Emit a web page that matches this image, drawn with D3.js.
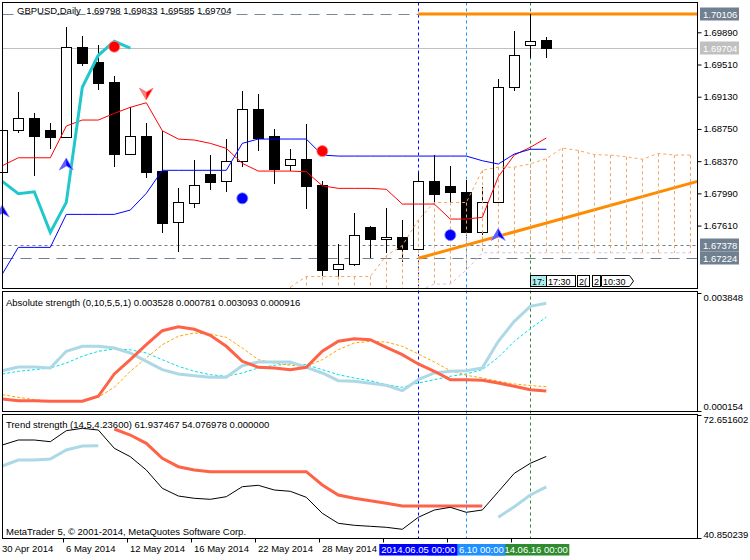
<!DOCTYPE html>
<html><head><meta charset="utf-8">
<script src="https://cdn.jsdelivr.net/npm/d3@7/dist/d3.min.js"></script>
<style>
html,body{margin:0;padding:0;background:#fff;}
svg{display:block;}
text{font-family:"Liberation Sans",Arial,sans-serif;font-size:9.5px;fill:#000;}
</style></head><body>
<svg id="chart" width="750" height="560"></svg>
<script>
// ---------------- DATA ----------------
const dates = ["2014-04-30","2014-05-01","2014-05-02","2014-05-05","2014-05-06","2014-05-07","2014-05-08","2014-05-09",
"2014-05-12","2014-05-13","2014-05-14","2014-05-15","2014-05-16","2014-05-19","2014-05-20","2014-05-21","2014-05-22",
"2014-05-23","2014-05-26","2014-05-27","2014-05-28","2014-05-29","2014-05-30","2014-06-02","2014-06-03","2014-06-04",
"2014-06-05","2014-06-06","2014-06-09","2014-06-10","2014-06-11","2014-06-12","2014-06-13","2014-06-16","2014-06-17"];
const futureDates = ["2014-06-18","2014-06-19","2014-06-20","2014-06-23","2014-06-24","2014-06-25","2014-06-26","2014-06-27","2014-06-30"];

const open  = [1.68242,1.68734,1.68875,1.68734,1.68651,1.69713,1.69536,1.69304,1.68458,1.68663,1.68253,1.67648,1.67872,1.68218,1.68132,1.68368,1.68981,1.68663,1.68321,1.68392,1.68088,1.67093,1.67152,1.67589,1.67448,1.67475,1.67339,1.68132,1.68080,1.68002,1.67530,1.67884,1.69241,1.69737,1.69798];
const high  = [1.68796,1.69189,1.68938,1.68820,1.69956,1.69850,1.69740,1.69374,1.69012,1.68816,1.68729,1.68049,1.68383,1.68442,1.68631,1.69197,1.69162,1.68749,1.68510,1.68808,1.68139,1.67392,1.67754,1.67600,1.67813,1.67675,1.68226,1.68442,1.68316,1.68147,1.68068,1.69335,1.69905,1.70106,1.69833];
const low   = [1.68206,1.68698,1.68198,1.68513,1.68639,1.69496,1.69209,1.68304,1.68446,1.68174,1.67525,1.67301,1.67820,1.68029,1.68009,1.68304,1.68493,1.68100,1.68253,1.67809,1.67014,1.66991,1.67132,1.67227,1.67289,1.67180,1.67298,1.67879,1.67852,1.67486,1.67498,1.67876,1.69201,1.69583,1.69585];
const close = [1.68737,1.68875,1.68670,1.68658,1.69713,1.69531,1.69295,1.68458,1.68663,1.68245,1.67643,1.67884,1.68088,1.68127,1.68368,1.68981,1.68646,1.68281,1.68392,1.68080,1.67091,1.67152,1.67495,1.67455,1.67471,1.67339,1.68132,1.67986,1.68009,1.67530,1.67884,1.69241,1.69619,1.69784,1.69704];

const tenkan = [1.68316,1.68410,1.68410,1.68410,1.68784,1.68855,1.68855,1.68934,1.69005,1.69059,1.68729,1.68631,1.68619,1.68580,1.68521,1.68344,1.68253,1.68253,1.68253,1.68245,1.68080,1.68049,1.68049,1.68049,1.68038,1.67864,1.67864,1.67864,1.67687,1.67687,1.67707,1.68186,1.68442,1.68533,1.68643];
const kijun  = [1.67038,1.67353,1.67353,1.67353,1.67742,1.67742,1.67742,1.67742,1.67793,1.67990,1.68262,1.68262,1.68262,1.68262,1.68262,1.68580,1.68631,1.68631,1.68631,1.68631,1.68442,1.68430,1.68430,1.68430,1.68430,1.68430,1.68430,1.68430,1.68430,1.68430,1.68375,1.68336,1.68454,1.68510,1.68510];
const chikou = [1.68132,1.67986,1.68009,1.67530,1.67884,1.69241,1.69619,1.69784,1.69704];
const cloudStart = 17;
const senkouA = [1.66790,1.66885,1.67009,1.67009,1.67009,1.67009,1.67009,1.67256,1.67374,1.67677,1.67882,1.67882,1.67882,1.68263,1.68299,1.68299,1.68338,1.68399,1.68525,1.68496,1.68447,1.68441,1.68421,1.68392,1.68462,1.68442,1.68442];
const senkouB = [1.66600,1.66600,1.66600,1.66600,1.66600,1.66600,1.66600,1.66600,1.66600,1.66837,1.66920,1.66920,1.67085,1.67289,1.67289,1.67289,1.67289,1.67289,1.67289,1.67289,1.67289,1.67289,1.67289,1.67289,1.67289,1.67289,1.67289];

const redDotIdx = [7,20],  redDotPrice = [1.69720,1.68489];
const blueDotIdx = [15,28], blueDotPrice = [1.67931,1.67498];
const upArrowIdx = [0,4,31], upArrowPrice = [1.67852,1.68407,1.67577];
const downArrowIdx = [9], downArrowPrice = [1.69091];
const trendIdx = [26,32], trendPrice = [1.67224,1.67536];

const vlineDates  = ["2014-06-16","2014-06-10","2014-06-05"];
const vlineLabels = ["14.06.16 00:00","6.10 00:00","2014.06.05 00:00"];  // visible parts of the stacked labels
const vlineColors = ["#2E8B2E","#1E90FF","#0000FF"];

const priceTicks = [1.69890,1.69510,1.69130,1.68750,1.68370,1.67990,1.67610];
const hiLevel = 1.70106, bidLevel = 1.69704, dotLevel = 1.67378, dashLevel = 1.67224;

const absBulls    = [0.001416,0.001532,0.001532,0.001500,0.002023,0.002180,0.002180,0.002126,0.001970,0.001710,0.001447,0.001313,0.001259,0.001209,0.001209,0.001572,0.001688,0.001688,0.001688,0.001522,0.001344,0.001103,0.001084,0.001022,0.000959,0.000790,0.001134,0.001344,0.001397,0.001416,0.001500,0.002336,0.002962,0.003432,0.003528];
const absBears    = [0.000530,0.000477,0.000477,0.000458,0.000458,0.000458,0.000615,0.001313,0.001760,0.002230,0.002668,0.002793,0.002712,0.002524,0.002180,0.001710,0.001522,0.001500,0.001447,0.001522,0.002023,0.002336,0.002418,0.002386,0.002148,0.001917,0.001626,0.001397,0.001134,0.001134,0.001116,0.001031,0.000928,0.000821,0.000781];
const absBullsSig = [0.001313,0.001397,0.001447,0.001500,0.001657,0.001867,0.002023,0.002095,0.002073,0.001970,0.001760,0.001554,0.001397,0.001291,0.001241,0.001344,0.001500,0.001585,0.001626,0.001604,0.001447,0.001291,0.001187,0.001103,0.000978,0.000896,0.001031,0.001134,0.001241,0.001313,0.001447,0.001835,0.002336,0.002731,0.003093];
const absBearsSig = [0.000665,0.000583,0.000508,0.000458,0.000458,0.000477,0.000583,0.000896,0.001397,0.001813,0.002230,0.002493,0.002596,0.002565,0.002461,0.002126,0.001760,0.001657,0.001585,0.001554,0.001760,0.002073,0.002283,0.002336,0.002314,0.002180,0.001939,0.001688,0.001416,0.001272,0.001187,0.001084,0.001000,0.000950,0.000916];
const absRange = [0.003848,0.000154];

const trendMain = [64.895,66.188,66.188,65.749,68.592,69.213,68.773,64.042,61.870,58.431,53.700,51.709,51.114,50.856,51.528,54.114,54.476,53.260,52.924,51.373,47.236,44.651,44.134,43.875,43.616,43.099,46.202,48.089,48.787,47.495,48.089,52.821,57.578,60.164,61.937];
const trendUp = [59.466,61.017,61.017,61.275,63.602,64.637,64.714,null,null,null,null,null,null,null,null,null,null,null,null,null,null,null,null,null,null,null,null,null,null,null,null,46.202,48.943,51.968,54.077];
const trendDn = [null,null,null,null,null,null,null,69.032,67.481,65.335,61.457,59.285,58.431,57.992,57.992,57.992,57.992,57.992,57.992,57.992,54.553,51.968,51.114,50.494,49.822,49.124,49.124,49.124,49.124,49.124,49.124,null,null,null,null];
const trendRange = [72.651602,40.850239];

const xTickIdx = [0,4,8,12,16,20,24,28,32];
const xTickLabels = ["30 Apr 2014","6 May 2014","12 May 2014","16 May 2014","22 May 2014","28 May 2014","","",""];

const tagTexts = ["17:","17:30","2(","2","10:30"];

const titleMain = "GBPUSD,Daily  1.69798 1.69833 1.69585 1.69704";
const titleAbs = "Absolute strength (0,10,5,5,1) 0.003528 0.000781 0.003093 0.000916";
const titleTrend = "Trend strength (14,5,4.23600) 61.937467 54.076978 0.000000";
const copyright = "MetaTrader 5, \u00A9 2001-2014, MetaQuotes Software Corp.";

// ---------------- SCALES ----------------
const svg = d3.select("#chart");
const allDates = dates.concat(futureDates);
const x = d3.scalePoint().domain(allDates).range([2.3, 2.3 + 16*(allDates.length-1)]);
const y  = d3.scaleLinear().domain([hiLevel, dashLevel]).range([14, 258.3]);
const y2 = d3.scaleLinear().domain(absRange).range([293, 411]);
const y3 = d3.scaleLinear().domain(trendRange).range([415, 538]);
const XL = 2.5, XR = 697.5;
const panels = [{t:2.5,b:288.5},{t:291.5,b:411.5},{t:414.5,b:538.5}];

const defs = svg.append("defs");
panels.forEach((p,k)=>{
  defs.append("clipPath").attr("id","clip"+k).append("rect")
    .attr("x",0).attr("y",p.t).attr("width",XR).attr("height",p.b-p.t);
});

// ---------------- VERTICAL LINES ----------------
const vg = svg.append("g");
vlineDates.forEach((d,k)=>{
  vg.append("line").attr("x1",Math.round(x(d))+0.5).attr("x2",Math.round(x(d))+0.5)
    .attr("y1",panels[0].t).attr("y2",panels[2].b)
    .attr("stroke",vlineColors[k]).attr("stroke-width",1).attr("stroke-dasharray","3,3");
});

// ---------------- MAIN PANEL ----------------
const g1 = svg.append("g").attr("clip-path","url(#clip0)");
function hline(p, color, dash, w){
  g1.append("line").attr("x1",XL).attr("x2",XR)
    .attr("y1",Math.round(y(p))+0.5).attr("y2",Math.round(y(p))+0.5)
    .attr("stroke",color).attr("stroke-width",w).attr("stroke-dasharray",dash);
}
hline(hiLevel,"#778899","11,7",1);
hline(bidLevel,"#C0C0C0",null,1);
hline(dotLevel,"#708090","3,3",1);
hline(dashLevel,"#708090","11,7",1);
g1.append("line").attr("x1",x(dates[26])).attr("x2",XR)
  .attr("y1",y(hiLevel)).attr("y2",y(hiLevel)).attr("stroke","#FF8C00").attr("stroke-width",3);

// trend line (ray)
{
  const x0 = x(dates[trendIdx[0]]), y0 = y(trendPrice[0]);
  const x1 = x(dates[trendIdx[1]]), y1 = y(trendPrice[1]);
  const s = (y1-y0)/(x1-x0);
  g1.append("line").attr("x1",x0).attr("y1",y0).attr("x2",XR).attr("y2",y0+s*(XR-x0))
    .attr("stroke","#FF8C00").attr("stroke-width",3);
}

// candles
const cg = g1.append("g").attr("shape-rendering","crispEdges");
dates.forEach((d,i)=>{
  const cx = Math.round(x(d));
  cg.append("line").attr("x1",cx+0.5).attr("x2",cx+0.5)
    .attr("y1",y(high[i])).attr("y2",y(low[i])).attr("stroke","#000");
  const bull = close[i] >= open[i];
  const top = y(Math.max(open[i],close[i])), bot = y(Math.min(open[i],close[i]));
  cg.append("rect").attr("x",cx-4.5).attr("y",Math.round(top)+0.5)
    .attr("width",10).attr("height",Math.max(1,Math.round(bot)-Math.round(top)))
    .attr("fill",bull?"#fff":"#000").attr("stroke","#000");
});

// cloud
const cloudG = g1.append("g");
senkouA.forEach((a,k)=>{
  const xi = Math.round(x(allDates[cloudStart+k]))+0.5;
  cloudG.append("line").attr("x1",xi).attr("x2",xi)
    .attr("y1",y(a)).attr("y2",y(senkouB[k]))
    .attr("stroke","#F4A460").attr("stroke-width",1).attr("stroke-dasharray","3,3");
});
const cloudLine = d3.line().x((v,k)=>x(allDates[cloudStart+k])).y(v=>y(v));
cloudG.append("path").attr("d",cloudLine(senkouB)).attr("fill","none")
  .attr("stroke","#D8BFD8").attr("stroke-dasharray","3,3");
cloudG.append("path").attr("d",cloudLine(senkouA)).attr("fill","none")
  .attr("stroke","#F4A460").attr("stroke-dasharray","3,3");

// lines
const pl = d3.line().x((v,i)=>x(dates[i])).y(v=>y(v));
g1.append("path").attr("d",pl(tenkan)).attr("fill","none").attr("stroke","#FF0000").attr("stroke-width",1);
g1.append("path").attr("d",pl(kijun)).attr("fill","none").attr("stroke","#0000FF").attr("stroke-width",1);
g1.append("path").attr("d",pl(chikou)).attr("fill","none").attr("stroke","#20C8CC").attr("stroke-width",3);

// markers
redDotIdx.forEach((ix,k)=>{
  g1.append("circle").attr("cx",x(dates[ix])).attr("cy",y(redDotPrice[k])).attr("r",5.5)
    .attr("fill","#FF0000").attr("stroke","#FF8080").attr("stroke-width",0.8);
});
blueDotIdx.forEach((ix,k)=>{
  g1.append("circle").attr("cx",x(dates[ix])).attr("cy",y(blueDotPrice[k])).attr("r",5.5)
    .attr("fill","#0000FF").attr("stroke","#8080FF").attr("stroke-width",0.8);
});
upArrowIdx.forEach((ix,k)=>{
  const tx = x(dates[ix]), ty = y(upArrowPrice[k]);
  g1.append("path").attr("d",`M${tx},${ty} L${tx+7},${ty+12} L${tx},${ty+8} L${tx-7},${ty+12} Z`)
    .attr("fill","#0000FF").attr("stroke","#9090FF").attr("stroke-width",0.8);
  g1.append("path").attr("d",`M${tx},${ty} L${tx},${ty+8} L${tx-7},${ty+12} Z`)
    .attr("fill","#6060FF");
});
downArrowIdx.forEach((ix,k)=>{
  const tx = x(dates[ix]), ty = y(downArrowPrice[k]);
  g1.append("path").attr("d",`M${tx},${ty} L${tx+7},${ty-12} L${tx},${ty-8} L${tx-7},${ty-12} Z`)
    .attr("fill","#FF0000").attr("stroke","#FF9090").attr("stroke-width",0.8);
  g1.append("path").attr("d",`M${tx},${ty} L${tx},${ty-8} L${tx-7},${ty-12} Z`)
    .attr("fill","#FF8080");
});

// small time tags near bottom of main panel
{
  const bx = Math.round(x(dates[33]));
  const tags = [
    {dx:0,  w:16, bg:"#AFEEEE"},
    {dx:16, w:29, bg:"#fff"},
    {dx:47, w:12, bg:"#fff"},
    {dx:62, w:8,  bg:"#fff"},
    {dx:71, w:28, bg:"#fff", arrow:true}
  ];
  const tg = svg.append("g");
  tags.forEach((tt,k)=>{
    const x0 = bx+tt.dx+0.5, y0 = 275.5, h = 11;
    if(tt.arrow){
      tg.append("path").attr("d",`M${x0},${y0} H${x0+tt.w} L${x0+tt.w+4},${y0+h/2} L${x0+tt.w},${y0+h} H${x0} Z`)
        .attr("fill",tt.bg).attr("stroke","#000");
    } else {
      tg.append("rect").attr("x",x0).attr("y",y0).attr("width",tt.w).attr("height",h)
        .attr("fill",tt.bg).attr("stroke","#000");
    }
    tg.append("text").attr("x",x0+1.5).attr("y",y0+9).style("font-size","9px").text(tagTexts[k]);
  });
}

// ---------------- PANEL 2 ----------------
const g2 = svg.append("g").attr("clip-path","url(#clip1)");
const l2 = d3.line().x((v,i)=>x(dates[i])).y(v=>y2(v));
g2.append("path").attr("d",l2(absBullsSig)).attr("fill","none").attr("stroke","#00E0E8").attr("stroke-width",1).attr("stroke-dasharray","3,2");
g2.append("path").attr("d",l2(absBearsSig)).attr("fill","none").attr("stroke","#FFA500").attr("stroke-width",1).attr("stroke-dasharray","3,2");
g2.append("path").attr("d",l2(absBulls)).attr("fill","none").attr("stroke","#ADD8E6").attr("stroke-width",3);
g2.append("path").attr("d",l2(absBears)).attr("fill","none").attr("stroke","#FF6347").attr("stroke-width",3);

// ---------------- PANEL 3 ----------------
const g3 = svg.append("g").attr("clip-path","url(#clip2)");
const l3 = d3.line().defined(v=>v!==null).x((v,i)=>x(dates[i])).y(v=>y3(v));
g3.append("path").attr("d",l3(trendUp)).attr("fill","none").attr("stroke","#ADD8E6").attr("stroke-width",3);
g3.append("path").attr("d",l3(trendDn)).attr("fill","none").attr("stroke","#FF6347").attr("stroke-width",3);
g3.append("path").attr("d",l3(trendMain)).attr("fill","none").attr("stroke","#000").attr("stroke-width",1);

// ---------------- FRAMES ----------------
panels.forEach(p=>{
  svg.append("rect").attr("x",XL).attr("y",p.t).attr("width",XR-XL).attr("height",p.b-p.t)
    .attr("fill","none").attr("stroke","#000").attr("stroke-width",1);
});

// ---------------- AXES ----------------
const ax1 = svg.append("g").attr("transform",`translate(${XR},0)`)
  .call(d3.axisRight(y).tickValues(priceTicks).tickSize(4).tickPadding(2).tickFormat(d3.format(".5f")));
ax1.select(".domain").remove();
ax1.selectAll("text").style("font-family","Liberation Sans, Arial, sans-serif").style("font-size","9.5px");

function levelBox(p, bg){
  const yy = Math.round(y(p));
  svg.append("rect").attr("x",700).attr("y",yy-6.5).attr("width",39).attr("height",13).attr("fill",bg);
  svg.append("text").attr("x",703).attr("y",yy+3.5).style("fill","#fff").text(d3.format(".5f")(p));
}
levelBox(hiLevel,"#708090");
levelBox(bidLevel,"#C0C0C0");
levelBox(dotLevel,"#708090");
levelBox(dashLevel,"#708090");

function sideAxis(scale, vals, fmt, shifts){
  const a = svg.append("g").attr("transform",`translate(${XR},0)`)
    .call(d3.axisRight(scale).tickValues(vals).tickSize(4).tickPadding(2).tickFormat(fmt));
  a.select(".domain").remove();
  a.selectAll("text").style("font-family","Liberation Sans, Arial, sans-serif").style("font-size","9.5px")
    .attr("y",(d,k)=>shifts[k]);
}
sideAxis(y2, absRange, d3.format(".6f"), [4,-5]);
sideAxis(y3, trendRange, d3.format(".6f"), [4,-4]);

// x axis
const xa = svg.append("g");
xTickIdx.forEach((ix,k)=>{
  const xx = Math.round(x(dates[ix]))-2.5;
  xa.append("line").attr("x1",xx).attr("x2",xx).attr("y1",panels[2].b).attr("y2",panels[2].b+4).attr("stroke","#000");
  if(xTickLabels[k]) xa.append("text").attr("x",Math.round(x(dates[ix]))).attr("y",551.5).text(xTickLabels[k]);
});
// vertical line labels (stacked: later ones cover the earlier ones' left part)
vlineDates.forEach((d,k)=>{
  const cx = x(d);
  xa.append("rect").attr("x",cx-39).attr("y",544).attr("width",78).attr("height",11.5).attr("fill",vlineColors[k]);
  if(k<2){
    xa.append("text").attr("x",cx+37.5).attr("y",552.5).attr("text-anchor","end").style("fill","#fff").text(vlineLabels[k]);
  } else {
    xa.append("text").attr("x",cx).attr("y",552.5).attr("text-anchor","middle").style("fill","#fff").text(vlineLabels[k]);
  }
});

// ---------------- TEXTS ----------------
svg.append("text").attr("x",17).attr("y",13.5).attr("xml:space","preserve").style("white-space","pre").text(titleMain);
svg.append("text").attr("x",6).attr("y",305.5).text(titleAbs);
svg.append("text").attr("x",6).attr("y",427.5).text(titleTrend);
svg.append("text").attr("x",6).attr("y",535).text(copyright);
</script>
</body></html>
